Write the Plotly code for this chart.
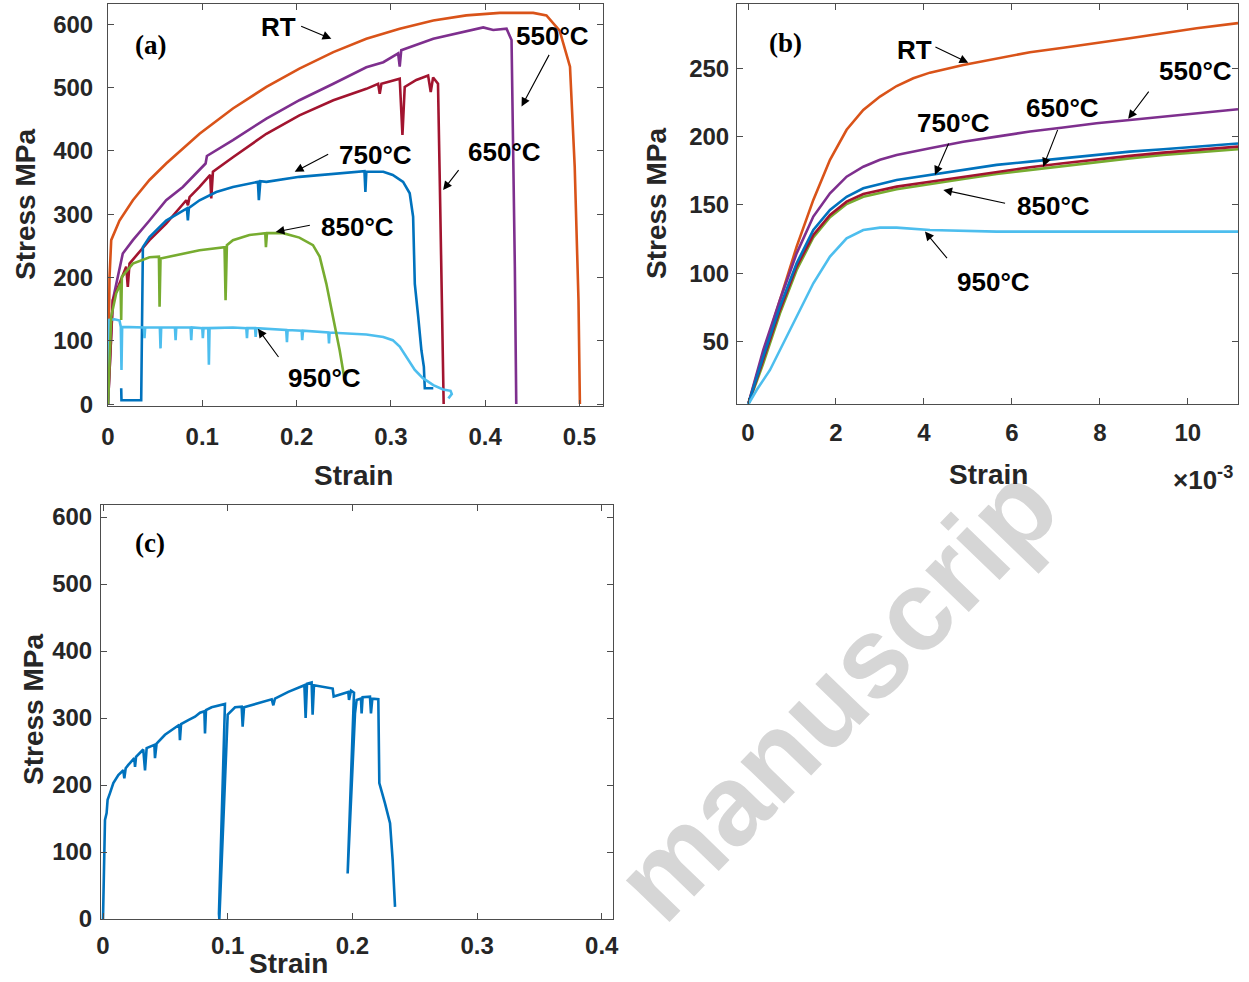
import plotly.graph_objects as go

# ---------------- Panel (a): full stress-strain curves ----------------
rt_a_strain = [0, 0.0016, 0.0034, 0.0122, 0.0264, 0.044, 0.0617, 0.0971, 0.1325, 0.168, 0.203,
               0.239, 0.274, 0.3094, 0.345, 0.380, 0.4156, 0.451, 0.465, 0.479, 0.490, 0.495,
               0.499, 0.5005]
rt_a_stress = [0, 200, 259, 290, 322, 354, 380, 427, 467, 501, 530, 556, 577, 593, 606, 614,
               618, 618, 614, 590, 533, 375, 164, 0]

c550_a_strain = [0, 0.0051, 0.0157, 0.0264, 0.044, 0.0617, 0.0794, 0.0971, 0.1035, 0.1049, 0.1325,
                 0.168, 0.203, 0.239, 0.274, 0.292, 0.3077, 0.3094, 0.311, 0.345, 0.380, 0.398,
                 0.4085, 0.4227, 0.428, 0.4297, 0.4315, 0.433]
c550_a_stress = [0, 164, 238, 259, 290, 322, 343, 369, 380, 392, 417, 451, 480, 506, 532, 540,
                 554, 533, 559, 577, 589, 595, 591, 593, 575, 427, 217, 0]

c650_a_strain = [0, 0.0051, 0.0193, 0.021, 0.0228, 0.044, 0.0617, 0.083, 0.0848, 0.0865, 0.0971,
                 0.1084, 0.1095, 0.1113, 0.1325, 0.168, 0.203, 0.239, 0.274, 0.2865, 0.2882, 0.29,
                 0.3094, 0.3123, 0.3147, 0.327, 0.3395, 0.3423, 0.3448, 0.35, 0.352, 0.3537, 0.356]
c650_a_stress = [0, 164, 217, 185, 222, 259, 285, 322, 314, 327, 343, 362, 325, 367, 390, 427,
                 456, 480, 498, 506, 490, 506, 514, 425, 501, 512, 519, 493, 516, 506, 343, 164, 0]

c750_a_strain = [0.014, 0.0143, 0.0352, 0.0363, 0.037, 0.044, 0.0617, 0.0837, 0.0847, 0.0858,
                 0.0971, 0.1148, 0.1325, 0.159, 0.160, 0.1616, 0.168, 0.203, 0.239, 0.272, 0.273,
                 0.274, 0.292, 0.302, 0.313, 0.32, 0.3236, 0.3254, 0.329, 0.3324, 0.335, 0.336, 0.345]
c750_a_stress = [25, 6, 6, 112, 248, 264, 290, 309, 290, 310, 322, 335, 343, 351, 322, 352, 351,
                 359, 364, 368, 335, 367, 367, 362, 351, 333, 296, 190, 138, 85, 59, 25, 25]

c850_a_strain = [0, 0.0034, 0.0087, 0.0133, 0.014, 0.0147, 0.0264, 0.044, 0.054, 0.0547, 0.0557,
                 0.0794, 0.0971, 0.1236, 0.1247, 0.1261, 0.1325, 0.150, 0.1668, 0.1675, 0.1686,
                 0.1856, 0.203, 0.2174, 0.2245, 0.2316, 0.2387, 0.2457, 0.251]
c850_a_stress = [0, 138, 175, 190, 133, 201, 222, 232, 233, 154, 230, 238, 243, 248, 164, 251,
                 259, 267, 270, 248, 270, 270, 263, 251, 233, 190, 138, 85, 38]

c950_a_strain = [0, 0.0009, 0.0069, 0.0122, 0.0136, 0.0143, 0.015, 0.0264, 0.038, 0.0387, 0.0394,
                 0.055, 0.0557, 0.0564, 0.071, 0.0717, 0.0724, 0.0876, 0.0883, 0.089, 0.100, 0.1006,
                 0.1013, 0.1063, 0.107, 0.1077, 0.1325, 0.1467, 0.1474, 0.148, 0.156, 0.1566, 0.1573,
                 0.189, 0.1898, 0.1905, 0.2054, 0.206, 0.2068, 0.2337, 0.2344, 0.235, 0.274, 0.292,
                 0.302, 0.3094, 0.3165, 0.3254, 0.334, 0.345, 0.3554, 0.3633, 0.3646, 0.361]
c950_a_stress = [0, 133, 134, 132, 122, 54, 122, 122, 121, 104, 121, 121, 88, 121, 121, 101, 121,
                 121, 101, 121, 120, 104, 120, 120, 62, 120, 121, 120, 104, 120, 120, 106, 120,
                 117, 98, 117, 116, 101, 116, 113, 96, 113, 110, 106, 101, 91, 75, 54, 41, 30, 23,
                 21, 16, 9]

# ---------------- Panel (b): elastic / early plastic region (strain x 1e-3) ----------------
rt_b_strain = [0, 0.348, 0.727, 1.106, 1.485, 1.864, 2.242, 2.621, 3.0, 3.379, 3.758, 4.136,
               4.894, 5.652, 6.41, 7.167, 7.924, 8.68, 9.44, 10.2, 11.14]
rt_b_stress = [3.7, 41.5, 80.5, 119.5, 153.7, 183, 205, 219.5, 229.3, 237, 242.7, 246.8, 252.4,
               257.3, 261.7, 265, 268.3, 272, 275.6, 279.3, 283]

c550_b_strain = [0, 0.348, 0.727, 1.106, 1.485, 1.864, 2.242, 2.621, 3.0, 3.379, 4.136, 4.894,
                 5.652, 6.41, 7.167, 7.924, 8.68, 9.44, 10.2, 11.14]
c550_b_stress = [3.7, 43.9, 80.5, 114.6, 141.5, 158.5, 170.7, 178, 183, 186.6, 191.5, 196.3, 200,
                 203.7, 206.6, 209.8, 212.2, 214.6, 216.6, 220]

c650_b_strain = [0, 0.348, 0.727, 1.106, 1.485, 1.864, 2.242, 2.621, 3.379, 4.136, 4.894, 5.652,
                 6.41, 7.167, 7.924, 8.68, 9.44, 10.2, 11.14]
c650_b_stress = [3.7, 36.6, 73.2, 104.9, 128, 142.7, 152.4, 158, 163.4, 167, 170.7, 174.4, 177.6,
                 180.5, 183.4, 185.9, 188.3, 190.2, 192.7]

c750_b_strain = [0, 0.348, 0.727, 1.106, 1.485, 1.864, 2.242, 2.621, 3.379, 4.136, 4.894, 5.652,
                 6.41, 7.167, 7.924, 8.68, 9.44, 10.2, 11.14]
c750_b_stress = [3.7, 39, 75.6, 107.3, 131.7, 146.3, 156, 162.2, 168.3, 172, 176, 179.3, 181.7,
                 184.1, 186.6, 189, 190.7, 192.7, 195]

c850_b_strain = [0, 0.348, 0.727, 1.106, 1.485, 1.864, 2.242, 2.621, 3.379, 4.136, 4.894, 5.652,
                 6.41, 7.167, 7.924, 8.68, 9.44, 10.2, 11.14]
c850_b_stress = [3.7, 34.1, 70.7, 102.4, 126.3, 141, 150.7, 156, 161.5, 165, 169, 172.7, 175.6,
                 178.8, 181.7, 184.1, 186.6, 188.5, 190.7]

c950_b_strain = [0, 0.197, 0.5, 0.727, 1.106, 1.485, 1.864, 2.242, 2.621, 3.0, 3.379, 3.758,
                 4.136, 5.652, 7.167, 11.14]
c950_b_stress = [3.7, 14.6, 29.3, 43.9, 68.3, 92.7, 112.2, 125.6, 131.7, 133.4, 133.4, 132.4,
                 131.7, 130.5, 130.5, 130.5]

# ---------------- Panel (c): single test with reloads ----------------
c_strain = [0, 0.0016, 0.0029, 0.0037, 0.0056, 0.0083, 0.0123, 0.0163, 0.0171, 0.0182, 0.0203,
            0.0251, 0.0257, 0.0265, 0.0323, 0.0337, 0.035, 0.0412, 0.0417, 0.043, 0.0497, 0.0577,
            0.0612, 0.0617, 0.0626, 0.0684, 0.0738, 0.0778, 0.0813, 0.0818, 0.0826, 0.0871,
            0.0952, 0.0978, 0.093, 0.0933, 0.1, 0.1059, 0.1112, 0.112, 0.1131, 0.1219, 0.1272,
            0.1353, 0.1366, 0.1379, 0.1486, 0.154, 0.1615, 0.1625, 0.1636, 0.1673, 0.1681, 0.1692,
            0.1807, 0.1842, 0.185, 0.1941, 0.1967, 0.1973, 0.1989, 0.2013, 0.1962, 0.2021, 0.2034,
            0.2069, 0.2074, 0.2082, 0.2141, 0.2149, 0.216, 0.2208, 0.2216, 0.2261, 0.2302, 0.2323,
            0.2342]
c_stress = [0, 148, 158, 178, 188, 203, 215, 222, 210, 225, 230, 240, 227, 242, 253, 222, 255,
            260, 240, 262, 275, 285, 290, 267, 291, 297, 302, 308, 310, 277, 312, 316, 319, 321,
            8, 0, 305, 316, 317, 287, 316, 321, 324, 328, 319, 329, 339, 343, 349, 300, 351, 353,
            305, 349, 346, 344, 332, 338, 339, 327, 341, 338, 68, 307, 327, 329, 307, 331, 332,
            307, 329, 328, 203, 173, 143, 88, 18]

ORANGE = "#D95319"
PURPLE = "#7E2F8E"
RED = "#A2142F"
BLUE = "#0072BD"
GREEN = "#77AC30"
LBLUE = "#4DBEEE"
LW = 2.6

fig = go.Figure()

def add(x, y, color, xa, ya):
    fig.add_trace(go.Scatter(x=x, y=y, mode="lines", line=dict(color=color, width=LW),
                             xaxis=xa, yaxis=ya, showlegend=False, hoverinfo="skip"))

# panel (a)
add(rt_a_strain, rt_a_stress, ORANGE, "x", "y")
add(c550_a_strain, c550_a_stress, PURPLE, "x", "y")
add(c650_a_strain, c650_a_stress, RED, "x", "y")
add(c750_a_strain, c750_a_stress, BLUE, "x", "y")
add(c950_a_strain, c950_a_stress, LBLUE, "x", "y")
add(c850_a_strain, c850_a_stress, GREEN, "x", "y")
# panel (b)
add(rt_b_strain, rt_b_stress, ORANGE, "x2", "y2")
add(c550_b_strain, c550_b_stress, PURPLE, "x2", "y2")
add(c850_b_strain, c850_b_stress, GREEN, "x2", "y2")
add(c650_b_strain, c650_b_stress, RED, "x2", "y2")
add(c750_b_strain, c750_b_stress, BLUE, "x2", "y2")
add(c950_b_strain, c950_b_stress, LBLUE, "x2", "y2")
# panel (c)
add(c_strain, c_stress, BLUE, "x3", "y3")

FONT = "Liberation Sans, Arial, sans-serif"
TICKFONT = dict(family=FONT, size=24, color="#262626", weight="bold")
AXCOL = "#4d4d4d"

def axis(domain, rng, tickvals, ticktext, anchor, standoff):
    return dict(domain=domain, range=rng, tickvals=tickvals, ticktext=ticktext, anchor=anchor,
                showline=True, linecolor=AXCOL, linewidth=1, mirror="allticks",
                ticks="inside", ticklen=6, tickcolor=AXCOL, tickwidth=1,
                showgrid=False, zeroline=False, tickfont=TICKFONT, automargin=False,
                ticklabelstandoff=standoff, fixedrange=True)

W, H = 1249, 982
def px(a, b):
    return [a / W, b / W]
def py(top, bottom):
    return [1 - bottom / H, 1 - top / H]

layout = dict(
    width=W, height=H, margin=dict(l=0, r=0, t=0, b=0, autoexpand=False),
    paper_bgcolor="white", plot_bgcolor="white",
    xaxis=axis(px(108, 603), [0, 0.525], [0, 0.1, 0.2, 0.3, 0.4, 0.5],
               ["0", "0.1", "0.2", "0.3", "0.4", "0.5"], "y", 9),
    yaxis=axis(py(4, 406), [-3, 632], [0, 100, 200, 300, 400, 500, 600],
               ["0", "100", "200", "300", "400", "500", "600"], "x", 9),
    xaxis2=axis(px(737, 1238), [-0.25, 11.14], [0, 2, 4, 6, 8, 10],
                ["0", "2", "4", "6", "8", "10"], "y2", 7),
    yaxis2=axis(py(4, 404), [4.4, 297], [50, 100, 150, 200, 250],
                ["50", "100", "150", "200", "250"], "x2", 2),
    xaxis3=axis(px(101, 613), [-0.0016, 0.409], [0, 0.1, 0.2, 0.3, 0.4],
                ["0", "0.1", "0.2", "0.3", "0.4"], "y3", 5),
    yaxis3=axis(py(505, 919), [0, 618], [0, 100, 200, 300, 400, 500, 600],
                ["0", "100", "200", "300", "400", "500", "600"], "x3", 3),
)
fig.update_layout(**layout)

ann = []
LABFONT = dict(family=FONT, size=26, color="black", weight="bold")
TITLEFONT = dict(family=FONT, size=28, color="#262626", weight="bold")
PANELFONT = dict(family="Liberation Serif, Times New Roman, serif", size=27, color="black",
                 weight="bold")

# watermark (drawn first)
ann.append(dict(text="manuscrip", xref="paper", yref="paper", x=836 / W, y=1 - 692 / H,
                xanchor="center", yanchor="middle",
                showarrow=False, textangle=-46,
                font=dict(family=FONT, size=114, color="#d6d6d6", weight="bold")))

def label(text, x, y, xr, yr):
    ann.append(dict(text=text, x=x, y=y, xref=xr, yref=yr, showarrow=False, font=LABFONT,
                    xanchor="center", yanchor="middle"))

def arrow(tail, head, xr, yr):
    ann.append(dict(text="", x=head[0], y=head[1], ax=tail[0], ay=tail[1], xref=xr, yref=yr,
                    axref=xr, ayref=yr, showarrow=True, arrowhead=2, arrowsize=1.6,
                    arrowwidth=1.1, arrowcolor="black"))

# panel (a) labels
label("RT", 0.1803, 596, "x", "y");       arrow((0.2033, 598), (0.2369, 577), "x", "y")
label("550°C", 0.4715, 581, "x", "y");    arrow((0.4687, 554), (0.4386, 470), "x", "y")
label("650°C", 0.4209, 398, "x", "y");    arrow((0.3731, 372), (0.3554, 338), "x", "y")
label("750°C", 0.284, 393, "x", "y");     arrow((0.2351, 396), (0.198, 367), "x", "y")
label("850°C", 0.2645, 280, "x", "y");    arrow((0.2157, 283), (0.1778, 272), "x", "y")
label("950°C", 0.2298, 41, "x", "y");     arrow((0.182, 72), (0.159, 119), "x", "y")

# panel (b) labels
label("RT", 3.795, 263, "x2", "y2");      arrow((4.227, 266), (5.008, 254), "x2", "y2")
label("550°C", 10.18, 248, "x2", "y2");   arrow((9.136, 234), (8.644, 213), "x2", "y2")
label("650°C", 7.144, 221, "x2", "y2");   arrow((7.053, 206), (6.712, 178), "x2", "y2")
label("750°C", 4.667, 210, "x2", "y2");   arrow((4.576, 196), (4.25, 172), "x2", "y2")
label("850°C", 6.955, 149, "x2", "y2");   arrow((5.879, 151), (4.44, 161), "x2", "y2")
label("950°C", 5.576, 94, "x2", "y2");    arrow((4.553, 110), (4.023, 130.5), "x2", "y2")

def paper_text(text, x, y, font, angle=0):
    ann.append(dict(text=text, x=x / W, y=1 - y / H, xref="paper", yref="paper",
                    xanchor="center", yanchor="middle",
                    showarrow=False, font=font, textangle=angle))

paper_text("(a)", 150, 45, PANELFONT)
paper_text("(b)", 785, 43, PANELFONT)
paper_text("(c)", 150, 543, PANELFONT)
paper_text("Stress MPa", 25, 205, TITLEFONT, -90)
paper_text("Strain", 354, 476, TITLEFONT)
paper_text("Stress MPa", 657, 204, TITLEFONT, -90)
paper_text("Strain", 988, 474, TITLEFONT)
paper_text("×10<sup>-3</sup>", 1203, 478, dict(family=FONT, size=26, color="#262626",
                                                weight="bold"))
paper_text("Stress MPa", 33, 710, TITLEFONT, -90)
paper_text("Strain", 288, 963, TITLEFONT)

fig.update_layout(annotations=ann)
fig.write_html("out.html", config={"displayModeBar": False},
               post_script="document.body.style.margin='0';document.body.style.overflow='hidden';")
